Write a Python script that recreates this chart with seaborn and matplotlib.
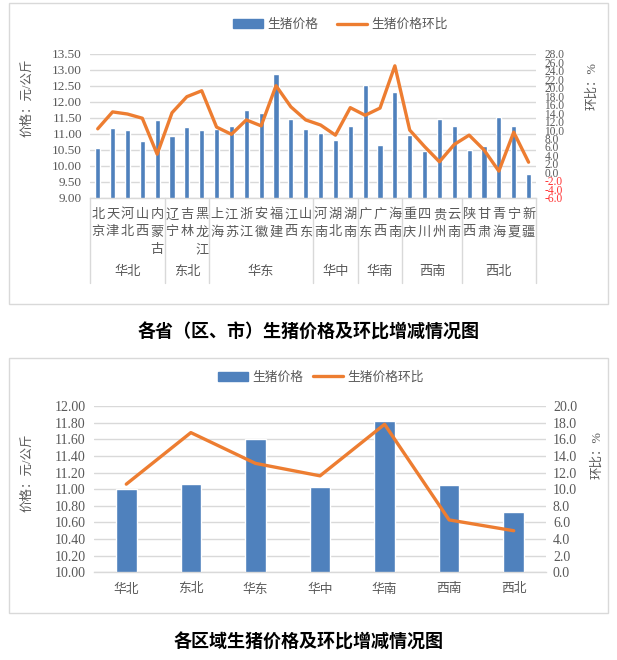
import numpy as np
import pandas as pd
import matplotlib
matplotlib.use("Agg")
import matplotlib.pyplot as plt
import matplotlib.transforms as mtransforms
from matplotlib.patches import Rectangle, Patch
from matplotlib.lines import Line2D
import seaborn as sns

# ---------------- data ----------------
provinces = ["北京", "天津", "河北", "山西", "内蒙古", "辽宁", "吉林", "黑龙江",
             "上海", "江苏", "浙江", "安徽", "福建", "江西", "山东", "河南", "湖北",
             "湖南", "广东", "广西", "海南", "重庆", "四川", "贵州", "云南", "陕西",
             "甘肃", "青海", "宁夏", "新疆"]
province_price = [10.55, 11.17, 11.11, 10.76, 11.43, 10.93, 11.20, 11.11,
                  11.14, 11.24, 11.74, 11.64, 12.86, 11.47, 11.14, 11.02, 10.82,
                  11.23, 12.52, 10.66, 12.31, 10.96, 10.46, 11.47, 11.26, 10.49,
                  10.62, 11.53, 11.23, 9.74]
province_mom = [10.3, 14.3, 13.8, 12.8, 4.3, 14.1, 17.9, 19.3,
                10.7, 9.0, 12.4, 11.0, 20.5, 15.5, 12.4, 11.2, 8.8,
                15.3, 13.5, 15.2, 25.2, 10.0, 6.1, 2.5, 6.6, 8.8,
                5.3, 0.3, 9.5, 2.4]
region_names = ["华北", "东北", "华东", "华中", "华南", "西南", "西北"]
region_sizes = [5, 3, 7, 3, 3, 4, 5]
region_price = [11.00, 11.06, 11.60, 11.03, 11.82, 11.05, 10.72]
region_mom = [10.6, 16.8, 13.1, 11.6, 17.8, 6.3, 5.0]

top_price_ticks = [9.0, 9.5, 10.0, 10.5, 11.0, 11.5, 12.0, 12.5, 13.0, 13.5]
top_mom_ticks = list(range(-6, 29, 2))
bot_price_ticks = [10.0, 10.2, 10.4, 10.6, 10.8, 11.0, 11.2, 11.4, 11.6, 11.8, 12.0]
bot_mom_ticks = list(range(0, 21, 2))

legend_labels = ["生猪价格", "生猪价格环比"]
title_top = "各省（区、市）生猪价格及环比增减情况图"
title_bot = "各区域生猪价格及环比增减情况图"
ylabel_left = "价格：元/公斤"
ylabel_right = "环比：%"

# ---------------- style ----------------
sns.set_style("white")
plt.rcParams['font.family'] = ['Liberation Serif', 'Noto Sans CJK SC']
BLUE = "#4f81bd"
ORANGE = "#ed7d31"
GRAY = "#595959"
GRID = "#d9d9d9"
W, H = 617, 660

fig = plt.figure(figsize=(W / 100, H / 100), dpi=100)


def fx(x):
    return x / W


def fy(y):
    return 1 - y / H


def style_pair(ax, axr, lticks, lfmt, rticks, rfmt, lpad, rpad, fs, rfs):
    for s in ax.spines.values():
        s.set_visible(False)
    for s in axr.spines.values():
        s.set_visible(False)
    ax.spines['bottom'].set_visible(True)
    ax.spines['bottom'].set_color(GRID)
    ax.spines['bottom'].set_linewidth(1)
    ax.set_axisbelow(True)
    ax.yaxis.grid(True, color=GRID, lw=1)
    ax.xaxis.grid(False)
    axr.grid(False)
    ax.set_yticks(lticks)
    ax.set_yticklabels([lfmt.format(v) for v in lticks])
    axr.set_yticks(rticks)
    axr.set_yticklabels([rfmt.format(v) for v in rticks])
    ax.tick_params(axis='y', length=0, pad=lpad, labelsize=fs, labelcolor=GRAY)
    axr.tick_params(axis='y', length=0, pad=rpad, labelsize=rfs, labelcolor=GRAY)
    ax.set_xlabel("")
    ax.set_ylabel("")
    axr.set_xlabel("")
    axr.set_ylabel("")


# ================= top chart =================
df_top = pd.DataFrame({"省份": provinces, "价格": province_price, "环比": province_mom})
n = len(provinces)
ax1 = fig.add_axes([fx(90.3), fy(197.7), (536 - 90.3) / W, 143.7 / H])
sns.barplot(data=df_top, x="省份", y="价格", ax=ax1, color=BLUE, saturation=1,
            width=0.35, errorbar=None)
ax1.set_ylim(9, 13.5)
ax1b = ax1.twinx()
sns.lineplot(x=np.arange(n), y=df_top["环比"], ax=ax1b, color=ORANGE,
             linewidth=2.4, legend=False, solid_joinstyle='round')
ax1b.set_ylim(-6, 28)
ax1.set_xlim(-0.5, n - 0.5)
style_pair(ax1, ax1b, top_price_ticks, "{:.2f}", top_mom_ticks, "{:.1f}", 6, 6, 9.5, 8.3)
for lbl, v in zip(ax1b.get_yticklabels(), top_mom_ticks):
    if v < 0:
        lbl.set_color("#ff3333")
ax1.tick_params(axis='x', length=0, labelbottom=False)

trans1 = mtransforms.blended_transform_factory(ax1.transData, fig.transFigure)
for i, name in enumerate(provinces):
    for j, ch in enumerate(name):
        ax1.text(i, fy(215 + j * 17.5), ch, transform=trans1, ha='center',
                 va='center', fontsize=9.5, color=GRAY)
start = 0
bounds = [-0.5]
for name, size in zip(region_names, region_sizes):
    ax1.text(start + (size - 1) / 2, fy(272), name, transform=trans1,
             ha='center', va='center', fontsize=9.5, color=GRAY)
    start += size
    bounds.append(start - 0.5)
for b in bounds:
    fig.add_artist(Line2D([b, b], [fy(197.7), fy(283)], transform=trans1,
                          color=GRID, lw=1))

fig.text(fx(27), fy(98), ylabel_left, rotation=90, ha='center', va='center',
         fontsize=9, color=GRAY)
fig.text(fx(592), fy(86), ylabel_right, rotation=90, ha='center', va='center',
         fontsize=9, color=GRAY)

handles = [Patch(facecolor=BLUE, edgecolor=BLUE),
           Line2D([0], [0], color=ORANGE, lw=2.4)]
fig.legend(handles, legend_labels, loc='center', bbox_to_anchor=(fx(340.5), fy(25)),
           ncol=2, frameon=False, fontsize=9.2, handlelength=2.3,
           handletextpad=0.35, columnspacing=1.5, labelcolor=GRAY)

fig.add_artist(Rectangle((fx(9), fy(304)), (608 - 9) / W, (304 - 3) / H,
                         transform=fig.transFigure, fill=False,
                         edgecolor=GRID, lw=1))
fig.text(0.5, fy(331.7), title_top, ha='center', va='center', fontsize=13,
         fontweight='bold', family=['Noto Sans CJK SC'], color='black')

# ================= bottom chart =================
df_bot = pd.DataFrame({"区域": region_names, "价格": region_price, "环比": region_mom})
m = len(region_names)
ax2 = fig.add_axes([fx(94), fy(572.3), (546 - 94) / W, 166.3 / H])
sns.barplot(data=df_bot, x="区域", y="价格", ax=ax2, color=BLUE, saturation=1,
            width=0.32, errorbar=None)
ax2.set_ylim(10, 12)
ax2b = ax2.twinx()
sns.lineplot(x=np.arange(m), y=df_bot["环比"], ax=ax2b, color=ORANGE,
             linewidth=2.4, legend=False, solid_joinstyle='round')
ax2b.set_ylim(0, 20)
ax2.set_xlim(-0.5, m - 0.5)
style_pair(ax2, ax2b, bot_price_ticks, "{:.2f}", bot_mom_ticks, "{:.1f}", 6, 5, 10, 10)
ax2.set_xticks(range(m))
ax2.set_xticklabels(region_names)
ax2.tick_params(axis='x', length=0, pad=8, labelsize=9.2, labelcolor=GRAY)

fig.text(fx(27), fy(473), ylabel_left, rotation=90, ha='center', va='center',
         fontsize=9, color=GRAY)
fig.text(fx(597), fy(455), ylabel_right, rotation=90, ha='center', va='center',
         fontsize=9, color=GRAY)

handles2 = [Patch(facecolor=BLUE, edgecolor=BLUE),
            Line2D([0], [0], color=ORANGE, lw=2.4)]
fig.legend(handles2, legend_labels, loc='center', bbox_to_anchor=(fx(321), fy(377.7)),
           ncol=2, frameon=False, fontsize=9.2, handlelength=2.3,
           handletextpad=0.35, columnspacing=0.8, labelcolor=GRAY)

fig.add_artist(Rectangle((fx(9), fy(613)), (608 - 9) / W, (613 - 358) / H,
                         transform=fig.transFigure, fill=False,
                         edgecolor=GRID, lw=1))
fig.text(0.5, fy(641.7), title_bot, ha='center', va='center', fontsize=13,
         fontweight='bold', family=['Noto Sans CJK SC'], color='black')

fig.savefig("out.png", dpi=100, facecolor='white')
